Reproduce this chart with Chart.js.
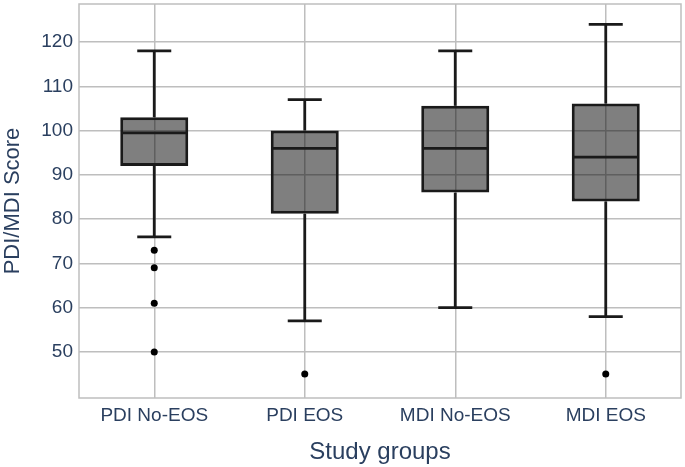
<!DOCTYPE html>
<html>
<head>
<meta charset="utf-8">
<script src="https://cdn.jsdelivr.net/npm/chart.js@4"></script>
<style>
  html, body { margin: 0; padding: 0; background: #fff; }
  #wrap { width: 685px; height: 467px; }
</style>
</head>
<body>
<div id="wrap"><canvas id="box"></canvas></div>
<script>
// box plot values
const categories = ["PDI No-EOS", "PDI EOS", "MDI No-EOS", "MDI EOS"];
const q1 = [92, 81.2, 86, 84];
const median = [99.5, 96, 96, 94];
const q3 = [103, 100, 105.6, 106.1];
const whiskerLow = [76, 57, 60, 58];
const whiskerHigh = [118, 107, 118, 124];
const outlierGroup = ["PDI No-EOS", "PDI No-EOS", "PDI No-EOS", "PDI No-EOS", "PDI EOS", "MDI EOS"];
const outlierValue = [73, 69, 61, 50, 45, 45];
const yTicks = [50, 60, 70, 80, 90, 100, 110, 120];

const textColor = "#2a3f5f";
const gridColor = "#bebebe";
const lineColor = "#1a1a1a";
const fontFamily = "'Liberation Sans', Arial, sans-serif";

// frame around the plot area + whiskers and medians
const boxExtras = {
    id: "boxExtras",
    beforeDatasetsDraw(chart) {
        const a = chart.chartArea, ctx = chart.ctx;
        ctx.save();
        ctx.strokeStyle = gridColor;
        ctx.lineWidth = 1.5;
        ctx.strokeRect(a.left, a.top, a.right - a.left, a.bottom - a.top);
        ctx.restore();
    },
    afterDatasetsDraw(chart) {
        const ctx = chart.ctx, y = chart.scales.y;
        const bars = chart.getDatasetMeta(0).data;
        ctx.save();
        ctx.strokeStyle = lineColor;
        ctx.lineWidth = 2.8;
        bars.forEach((bar, i) => {
            const x = bar.x, half = bar.width / 2, cap = bar.width / 4;
            const line = (x1, y1, x2, y2) => {
                ctx.beginPath(); ctx.moveTo(x1, y1); ctx.lineTo(x2, y2); ctx.stroke();
            };
            line(x, y.getPixelForValue(q3[i]), x, y.getPixelForValue(whiskerHigh[i]));
            line(x, y.getPixelForValue(q1[i]), x, y.getPixelForValue(whiskerLow[i]));
            line(x - cap, y.getPixelForValue(whiskerHigh[i]), x + cap, y.getPixelForValue(whiskerHigh[i]));
            line(x - cap, y.getPixelForValue(whiskerLow[i]), x + cap, y.getPixelForValue(whiskerLow[i]));
            line(x - half + 1, y.getPixelForValue(median[i]), x + half - 1, y.getPixelForValue(median[i]));
        });
        ctx.restore();
    }
};

new Chart(document.getElementById("box"), {
    type: "bar",
    data: {
        labels: categories,
        datasets: [{
            label: "IQR",
            data: categories.map((c, i) => [q1[i], q3[i]]),
            backgroundColor: "rgba(0,0,0,0.5)",
            borderColor: lineColor,
            borderWidth: 3,
            borderSkipped: false,
            barPercentage: 0.452,
            categoryPercentage: 1
        }, {
            type: "line",
            label: "Outliers",
            data: outlierGroup.map((g, i) => ({ x: g, y: outlierValue[i] })),
            showLine: false,
            pointRadius: 3.5,
            pointBackgroundColor: "#000",
            pointBorderColor: "#000",
            pointBorderWidth: 0
        }]
    },
    options: {
        responsive: true,
        maintainAspectRatio: false,
        animation: false,
        events: [],
        layout: { padding: { top: 1, right: 1, left: 0, bottom: 0 } },
        plugins: { legend: { display: false }, tooltip: { enabled: false } },
        scales: {
            x: {
                grid: { offset: false, color: gridColor, lineWidth: 1.5, drawTicks: false },
                border: { display: false },
                ticks: { color: textColor, padding: 6, font: { family: fontFamily, size: 19 } },
                title: {
                    display: true, text: "Study groups", color: textColor,
                    font: { family: fontFamily, size: 24 }, padding: { top: 0, bottom: 0 }
                },
                afterFit(s) { s.height = 69; s.paddingLeft = 0; s.paddingRight = 0; }
            },
            y: {
                min: 39.6,
                max: 128.6,
                afterBuildTicks(s) { s.ticks = yTicks.map(v => ({ value: v })); },
                grid: { color: gridColor, lineWidth: 1.5, drawTicks: false },
                border: { display: false },
                ticks: { color: textColor, padding: 6, font: { family: fontFamily, size: 19 } },
                title: {
                    display: true, text: "PDI/MDI Score", color: textColor,
                    font: { family: fontFamily, size: 22 }, padding: { top: 0, bottom: 0 }
                },
                afterFit(s) { s.width = 79; s.paddingTop = 0; s.paddingBottom = 0; }
            }
        }
    },
    plugins: [boxExtras]
});
</script>
</body>
</html>
